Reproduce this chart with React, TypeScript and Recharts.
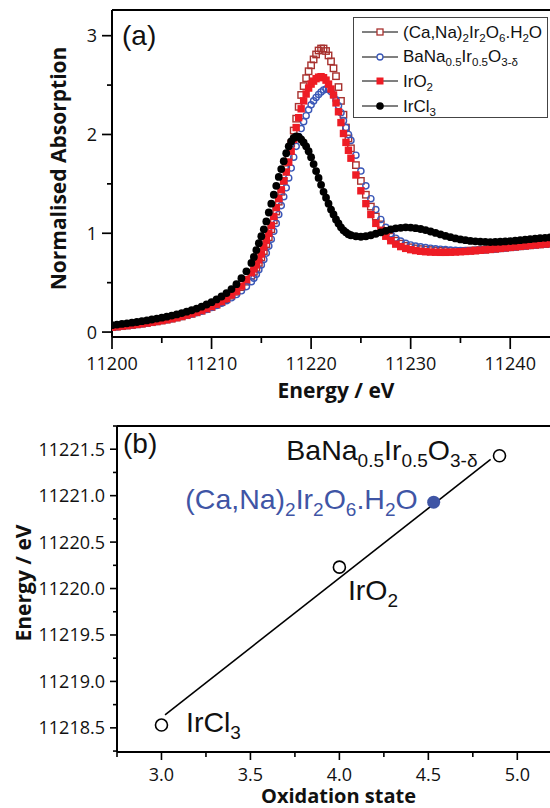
import React from 'react';
import { ScatterChart, Scatter, XAxis, YAxis, ReferenceLine, Legend, Customized, Label } from 'recharts';

// ---------------- data: panel (a) ----------------
const energies = [
  11200, 11200.5, 11201, 11201.5, 11202, 11202.5, 11203, 11203.5, 11204, 11204.5,
  11205, 11205.5, 11206, 11206.5, 11207, 11207.5, 11208, 11208.5, 11209, 11209.5,
  11210, 11210.5, 11211, 11211.5, 11212, 11212.5, 11213, 11213.5,
  11214, 11214.25, 11214.5, 11214.75, 11215, 11215.25, 11215.5, 11215.75, 11216, 11216.25,
  11216.5, 11216.75, 11217, 11217.25, 11217.5, 11217.75, 11218, 11218.25, 11218.5, 11218.75,
  11219, 11219.25, 11219.5, 11219.75, 11220, 11220.25, 11220.5, 11220.75, 11221, 11221.25,
  11221.5, 11221.75, 11222, 11222.25, 11222.5, 11222.75, 11223, 11223.25, 11223.5, 11223.75, 11224,
  11224.5, 11225, 11225.5, 11226, 11226.5, 11227, 11227.5, 11228, 11228.5, 11229,
  11229.5, 11230, 11230.5, 11231, 11231.5, 11232, 11232.5, 11233, 11233.5, 11234,
  11234.5, 11235, 11235.5, 11236, 11236.5, 11237, 11237.5, 11238, 11238.5, 11239,
  11239.5, 11240, 11240.5, 11241, 11241.5, 11242, 11242.5, 11243, 11243.5, 11244, 11244.5, 11245,
];

const caNaAbs = [
  0.05, 0.055, 0.06, 0.066, 0.072, 0.078, 0.085, 0.092, 0.1, 0.108,
  0.117, 0.126, 0.136, 0.147, 0.158, 0.171, 0.185, 0.2, 0.216, 0.234,
  0.254, 0.277, 0.303, 0.333, 0.368, 0.408, 0.455, 0.51,
  0.57, 0.61, 0.65, 0.70, 0.755, 0.82, 0.89, 0.96, 1.04, 1.13,
  1.22, 1.32, 1.42, 1.53, 1.65, 1.78, 1.91, 2.04, 2.16, 2.28,
  2.40, 2.49, 2.57, 2.64, 2.70, 2.76, 2.81, 2.85, 2.87, 2.87,
  2.845, 2.80, 2.74, 2.67, 2.59, 2.48, 2.34, 2.20, 2.07, 1.96, 1.86,
  1.69, 1.53, 1.39, 1.27, 1.17, 1.09, 1.02, 0.965, 0.925, 0.895,
  0.873, 0.858, 0.847, 0.84, 0.834, 0.83, 0.826, 0.823, 0.821, 0.82,
  0.82, 0.821, 0.822, 0.824, 0.827, 0.83, 0.834, 0.838, 0.843, 0.848,
  0.853, 0.858, 0.863, 0.868, 0.873, 0.878, 0.883, 0.887, 0.891, 0.895, 0.898, 0.9,
];

const baNaAbs = [
  0.05, 0.055, 0.06, 0.066, 0.072, 0.078, 0.085, 0.092, 0.1, 0.108,
  0.117, 0.126, 0.136, 0.147, 0.158, 0.17, 0.183, 0.197, 0.212, 0.229,
  0.248, 0.269, 0.292, 0.318, 0.347, 0.38, 0.418, 0.46,
  0.51, 0.545, 0.585, 0.63, 0.68, 0.735, 0.80, 0.87, 0.94, 1.02,
  1.10, 1.19, 1.28, 1.37, 1.46, 1.56, 1.66, 1.77, 1.88, 1.98,
  2.06, 2.13, 2.19, 2.25, 2.30, 2.34, 2.375, 2.405, 2.43, 2.45,
  2.46, 2.455, 2.435, 2.40, 2.35, 2.29, 2.22, 2.14, 2.07, 2.00, 1.94,
  1.79, 1.63, 1.48, 1.35, 1.24, 1.14, 1.06, 0.995, 0.95, 0.92,
  0.898, 0.882, 0.87, 0.862, 0.855, 0.849, 0.843, 0.838, 0.834, 0.83,
  0.827, 0.825, 0.825, 0.826, 0.828, 0.831, 0.834, 0.838, 0.842, 0.847,
  0.852, 0.857, 0.862, 0.867, 0.872, 0.877, 0.882, 0.886, 0.89, 0.894, 0.897, 0.9,
];

const irO2Abs = [
  0.05, 0.055, 0.06, 0.066, 0.072, 0.078, 0.085, 0.092, 0.1, 0.108,
  0.117, 0.126, 0.136, 0.147, 0.159, 0.172, 0.186, 0.201, 0.218, 0.237,
  0.258, 0.282, 0.309, 0.34, 0.376, 0.415, 0.465, 0.53,
  0.60, 0.64, 0.68, 0.73, 0.79, 0.86, 0.93, 1.00, 1.08, 1.17,
  1.26, 1.35, 1.44, 1.53, 1.62, 1.72, 1.83, 1.95, 2.07, 2.17,
  2.26, 2.34, 2.41, 2.47, 2.51, 2.54, 2.565, 2.58, 2.585, 2.575,
  2.55, 2.51, 2.46, 2.40, 2.32, 2.23, 2.12, 2.01, 1.92, 1.84, 1.76,
  1.59, 1.43, 1.30, 1.19, 1.10, 1.03, 0.97, 0.925, 0.89, 0.865,
  0.847, 0.834, 0.825, 0.818, 0.813, 0.81, 0.808, 0.807, 0.807, 0.808,
  0.81, 0.813, 0.816, 0.82, 0.824, 0.828, 0.833, 0.838, 0.843, 0.848,
  0.853, 0.858, 0.863, 0.868, 0.873, 0.878, 0.883, 0.887, 0.891, 0.895, 0.898, 0.901,
];

const irCl3Abs = [
  0.07, 0.076, 0.082, 0.088, 0.095, 0.102, 0.11, 0.118, 0.127, 0.136,
  0.146, 0.156, 0.167, 0.179, 0.192, 0.206, 0.221, 0.238, 0.257, 0.279,
  0.303, 0.33, 0.36, 0.395, 0.435, 0.485, 0.545, 0.615,
  0.70, 0.76, 0.83, 0.90, 0.97, 1.04, 1.12, 1.21, 1.30, 1.39,
  1.48, 1.57, 1.65, 1.73, 1.81, 1.88, 1.93, 1.965, 1.98, 1.975,
  1.95, 1.92, 1.88, 1.83, 1.77, 1.70, 1.63, 1.56, 1.49, 1.42,
  1.36, 1.30, 1.24, 1.19, 1.14, 1.10, 1.06, 1.03, 1.01, 0.99, 0.98,
  0.97, 0.965, 0.97, 0.98, 0.995, 1.01, 1.025, 1.04, 1.05, 1.055,
  1.06, 1.058, 1.052, 1.043, 1.032, 1.018, 1.003, 0.988, 0.973, 0.96,
  0.948, 0.938, 0.93, 0.923, 0.918, 0.914, 0.912, 0.911, 0.912, 0.914,
  0.917, 0.921, 0.925, 0.93, 0.935, 0.94, 0.945, 0.95, 0.954, 0.958, 0.961, 0.964,
];

const energyTicks = [11200, 11205, 11210, 11215, 11220, 11225, 11230, 11235, 11240, 11245];
const absTicks = [0, 0.5, 1, 1.5, 2, 2.5, 3];
const energyDomain = [11200, 11245];
const absDomain = [-0.05, 3.26];

// ---------------- data: panel (b) ----------------
const refNames = ['IrCl3', 'IrO2', 'BaNa'];
const refOx = [3.0, 4.0, 4.9];
const refEdge = [11218.53, 11220.23, 11221.43];
const sampleNames = ['CaNa'];
const sampleOx = [4.53];
const sampleEdge = [11220.93];
const fitOx = [3.02, 4.85];
const fitEdge = [11218.64, 11221.39];
const oxTicks = [2.75, 3, 3.25, 3.5, 3.75, 4, 4.25, 4.5, 4.75, 5];
const edgeTicks = [11218.25, 11218.5, 11218.75, 11219, 11219.25, 11219.5, 11219.75, 11220, 11220.25, 11220.5, 11220.75, 11221, 11221.25, 11221.5, 11221.75];
const oxDomain = [2.75, 5.24];
const edgeDomain = [11218.24, 11221.75];

type Part = [string, boolean];
const formulas: Record<string, Part[]> = {
  CaNa: [['(Ca,Na)', false], ['2', true], ['Ir', false], ['2', true], ['O', false], ['6', true], ['.H', false], ['2', true], ['O', false]],
  BaNa: [['BaNa', false], ['0.5', true], ['Ir', false], ['0.5', true], ['O', false], ['3-δ', true]],
  IrO2: [['IrO', false], ['2', true]],
  IrCl3: [['IrCl', false], ['3', true]],
};

// ---------------- styles ----------------
const C_CANA = '#a8322f';
const C_BANA = '#3a57b7';
const C_IRO2 = '#ee1c25';
const C_IRCL3 = '#000000';
const C_BLUE_TXT = '#3f55a5';
const TICK_FONT = '"Open Sans", sans-serif';
const TITLE_FONT = '"Open Sans", sans-serif';
const ANNOT_FONT = '"Liberation Sans", Arial, sans-serif';

const labelLayout: Record<string, { dx: number; dy: number; anchor: 'start' | 'end'; color: string }> = {
  IrCl3: { dx: 24.5, dy: 7, anchor: 'start', color: '#111' },
  IrO2: { dx: 8.5, dy: 33, anchor: 'start', color: '#111' },
  BaNa: { dx: -22, dy: 4, anchor: 'end', color: '#111' },
  CaNa: { dx: -16, dy: 7, anchor: 'end', color: C_BLUE_TXT },
};

const toPoints = (ys: number[]) => energies.map((x, i) => ({ x, y: ys[i] }));
const caNaPts = toPoints(caNaAbs);
const baNaPts = toPoints(baNaAbs);
const irO2Pts = toPoints(irO2Abs);
const irCl3Pts = toPoints(irCl3Abs);

const refPts = refOx.map((x, i) => ({ x, y: refEdge[i], name: refNames[i] }));
const samplePts = sampleOx.map((x, i) => ({ x, y: sampleEdge[i], name: sampleNames[i] }));
const fitPts = fitOx.map((x, i) => ({ x, y: fitEdge[i] }));

// ---------------- helpers ----------------
function SvgFormula({ x, y, parts, size, subSize, shift, anchor, fill }: any) {
  let shifted = false;
  const spans = parts.map(([t, s]: Part, i: number) => {
    let dy = 0;
    if (s && !shifted) dy = shift;
    if (!s && shifted) dy = -shift;
    shifted = s;
    return (
      <tspan key={i} dy={dy} fontSize={s ? subSize : size}>
        {t}
      </tspan>
    );
  });
  return (
    <text x={x} y={y} textAnchor={anchor} fill={fill} fontFamily={ANNOT_FONT} fontSize={size}>
      {spans}
    </text>
  );
}

function HtmlFormula({ parts }: { parts: Part[] }) {
  return (
    <span>
      {parts.map(([t, s], i) =>
        s ? (
          <span key={i} style={{ fontSize: '0.68em', verticalAlign: '-0.32em', lineHeight: 0 }}>
            {t}
          </span>
        ) : (
          <span key={i}>{t}</span>
        )
      )}
    </span>
  );
}

const openSquare = (p: any) => (
  <rect x={p.cx - 3.2} y={p.cy - 3.2} width={6.4} height={6.4} fill="none" stroke={C_CANA} strokeWidth={1.4} />
);
const openCircle = (p: any) => <circle cx={p.cx} cy={p.cy} r={3.1} fill="none" stroke={C_BANA} strokeWidth={1.4} />;
const filledSquare = (p: any) => <rect x={p.cx - 3.7} y={p.cy - 3.7} width={7.4} height={7.4} fill={C_IRO2} />;
const filledCircle = (p: any) => <circle cx={p.cx} cy={p.cy} r={3.9} fill={C_IRCL3} />;

// ---------------- ticks ----------------
const EnergyTick = (p: any) => {
  const v = p.payload.value;
  const major = v % 10 === 0;
  return (
    <g>
      <line x1={p.x} y1={p.y} x2={p.x} y2={p.y + (major ? 12 : 6)} stroke="#000" strokeWidth={1.7} />
      {major && (
        <text x={p.x} y={p.y + 33} textAnchor="middle" fontSize={18} fontFamily={TICK_FONT} fill="#111">
          {v}
        </text>
      )}
    </g>
  );
};

const AbsTick = (p: any) => {
  const v = p.payload.value;
  const major = Number.isInteger(v);
  return (
    <g>
      <line x1={p.x} y1={p.y} x2={p.x - (major ? 10 : 5)} y2={p.y} stroke="#000" strokeWidth={1.7} />
      {major && (
        <text x={p.x - 15} y={p.y + 6.5} textAnchor="end" fontSize={18} fontFamily={TICK_FONT} fill="#111">
          {v}
        </text>
      )}
    </g>
  );
};

const isHalf = (v: number) => Math.abs(v * 2 - Math.round(v * 2)) < 1e-6;

const OxTick = (p: any) => {
  const v = p.payload.value;
  const major = isHalf(v);
  return (
    <g>
      <line x1={p.x} y1={p.y} x2={p.x} y2={p.y + (major ? 8 : 5)} stroke="#000" strokeWidth={1.6} />
      {major && (
        <text x={p.x} y={p.y + 28.5} textAnchor="middle" fontSize={18} fontFamily={TICK_FONT} fill="#111">
          {v.toFixed(1)}
        </text>
      )}
    </g>
  );
};

const EdgeTick = (p: any) => {
  const v = p.payload.value;
  const major = isHalf(v);
  return (
    <g>
      <line x1={p.x} y1={p.y} x2={p.x - (major ? 7 : 4)} y2={p.y} stroke="#000" strokeWidth={1.6} />
      {major && (
        <text x={p.x - 12} y={p.y + 6.5} textAnchor="end" fontSize={18} fontFamily={TICK_FONT} fill="#111">
          {v.toFixed(1)}
        </text>
      )}
    </g>
  );
};

// ---------------- titles ----------------
const xTitle = (text: string, dy: number, size: number) => (props: any) => {
  const vb = props.viewBox || {};
  return (
    <text x={vb.x + vb.width / 2} y={vb.y + dy} textAnchor="middle" fontSize={size} fontWeight={700} fontFamily={TITLE_FONT} fill="#111">
      {text}
    </text>
  );
};

const yTitle = (text: string, baseX: number, dyc: number) => (props: any) => {
  const vb = props.viewBox || {};
  const x = vb.x + baseX;
  const y = vb.y + vb.height / 2 + dyc;
  return (
    <text x={x} y={y} transform={`rotate(-90, ${x}, ${y})`} textAnchor="middle" fontSize={21} fontWeight={700} fontFamily={TITLE_FONT} fill="#111">
      {text}
    </text>
  );
};

// ---------------- legend ----------------
const legendRows: { key: string; marker: string }[] = [
  { key: 'CaNa', marker: 'openSquare' },
  { key: 'BaNa', marker: 'openCircle' },
  { key: 'IrO2', marker: 'filledSquare' },
  { key: 'IrCl3', marker: 'filledCircle' },
];

function LegendMarker({ kind }: { kind: string }) {
  const c = { cx: 18, cy: 8 };
  return (
    <svg width={36} height={16} style={{ display: 'block', flex: 'none' }}>
      <line x1={0} y1={8} x2={36} y2={8} stroke="#000" strokeWidth={1} />
      {kind === 'openSquare' && <rect x={c.cx - 3} y={c.cy - 3} width={6} height={6} fill="#fff" stroke={C_CANA} strokeWidth={1.3} />}
      {kind === 'openCircle' && <circle cx={c.cx} cy={c.cy} r={3} fill="#fff" stroke={C_BANA} strokeWidth={1.3} />}
      {kind === 'filledSquare' && <rect x={c.cx - 3.5} y={c.cy - 3.5} width={7} height={7} fill={C_IRO2} />}
      {kind === 'filledCircle' && <circle cx={c.cx} cy={c.cy} r={3.8} fill={C_IRCL3} />}
    </svg>
  );
}

const LegendBox = () => (
  <div
    style={{
      width: 195,
      height: 101,
      boxSizing: 'border-box',
      border: '1px solid #444',
      background: '#fff',
      paddingTop: 2,
      fontFamily: ANNOT_FONT,
      fontSize: 17,
      color: '#111',
    }}
  >
    {legendRows.map((r) => (
      <div key={r.key} style={{ height: 24.6, display: 'flex', alignItems: 'center', paddingLeft: 8, whiteSpace: 'nowrap' }}>
        <LegendMarker kind={r.marker} />
        <span style={{ marginLeft: 5, lineHeight: '17px' }}>
          <HtmlFormula parts={formulas[r.key]} />
        </span>
      </div>
    ))}
  </div>
);

// ---------------- panel (b) shapes ----------------
const annotated = (filled: boolean) => (p: any) => {
  const name = p.payload?.name;
  const lay = labelLayout[name];
  return (
    <g>
      {filled ? (
        <circle cx={p.cx} cy={p.cy} r={6.5} fill={C_BLUE_TXT} />
      ) : (
        <circle cx={p.cx} cy={p.cy} r={6} fill="#fff" stroke="#000" strokeWidth={1.6} />
      )}
      {lay && (
        <SvgFormula
          x={p.cx + lay.dx}
          y={p.cy + lay.dy}
          parts={formulas[name]}
          size={28.5}
          subSize={19}
          shift={7}
          anchor={lay.anchor}
          fill={lay.color}
        />
      )}
    </g>
  );
};

const noMarker = () => <g />;

// ---------------- charts ----------------
function PanelA() {
  return (
    <ScatterChart width={560} height={410} margin={{ top: 10, right: 0, bottom: 33, left: 52 }}>
      <XAxis
        type="number"
        dataKey="x"
        domain={energyDomain}
        ticks={energyTicks}
        interval={0}
        allowDataOverflow
        height={40}
        tickSize={0}
        tickMargin={0}
        tickLine={false}
        axisLine={{ stroke: '#000', strokeWidth: 2 }}
        tick={(p: any) => <EnergyTick {...p} />}
      >
        <Label content={xTitle('Energy / eV', 61, 21)} />
      </XAxis>
      <YAxis
        type="number"
        dataKey="y"
        domain={absDomain}
        ticks={absTicks}
        interval={0}
        allowDataOverflow
        width={60}
        tickSize={0}
        tickMargin={0}
        tickLine={false}
        axisLine={{ stroke: '#000', strokeWidth: 2 }}
        tick={(p: any) => <AbsTick {...p} />}
      >
        <Label content={yTitle('Normalised Absorption', 14, -5)} />
      </YAxis>
      <ReferenceLine y={absDomain[1]} stroke="#000" strokeWidth={2} />
      <Scatter name="CaNa" data={caNaPts} shape={openSquare} isAnimationActive={false} />
      <Scatter name="BaNa" data={baNaPts} shape={openCircle} isAnimationActive={false} />
      <Scatter name="IrO2" data={irO2Pts} shape={filledSquare} isAnimationActive={false} />
      <Scatter name="IrCl3" data={irCl3Pts} shape={filledCircle} isAnimationActive={false} />
      <Customized
        component={() => (
          <text x={122} y={45} fontSize={28} fontFamily={ANNOT_FONT} fill="#111">
            (a)
          </text>
        )}
      />
      <Legend
        layout="horizontal"
        verticalAlign="middle"
        align="center"
        content={() => <LegendBox />}
        wrapperStyle={{ left: 353, top: 17, width: 195, height: 101 }}
      />
    </ScatterChart>
  );
}

function PanelB() {
  return (
    <ScatterChart width={560} height={398} margin={{ top: 16, right: 0, bottom: 16, left: 57 }}>
      <XAxis
        type="number"
        dataKey="x"
        domain={oxDomain}
        ticks={oxTicks}
        interval={0}
        allowDataOverflow
        height={40}
        tickSize={0}
        tickMargin={0}
        tickLine={false}
        axisLine={{ stroke: '#000', strokeWidth: 2 }}
        tick={(p: any) => <OxTick {...p} />}
      >
        <Label content={xTitle('Oxidation state', 51, 20)} />
      </XAxis>
      <YAxis
        type="number"
        dataKey="y"
        domain={edgeDomain}
        ticks={edgeTicks}
        interval={0}
        allowDataOverflow
        width={60}
        tickSize={0}
        tickMargin={0}
        tickLine={false}
        axisLine={{ stroke: '#000', strokeWidth: 2 }}
        tick={(p: any) => <EdgeTick {...p} />}
      >
        <Label content={yTitle('Energy / eV', -26, -6)} />
      </YAxis>
      <ReferenceLine y={edgeDomain[1]} stroke="#000" strokeWidth={2} />
      <Scatter name="fit" data={fitPts} line={{ stroke: '#000', strokeWidth: 1.6 }} shape={noMarker} isAnimationActive={false} />
      <Scatter name="refs" data={refPts} shape={annotated(false)} isAnimationActive={false} />
      <Scatter name="sample" data={samplePts} shape={annotated(true)} isAnimationActive={false} />
      <Customized
        component={() => (
          <text x={123} y={43} fontSize={28} fontFamily={ANNOT_FONT} fill="#111">
            (b)
          </text>
        )}
      />
    </ScatterChart>
  );
}

export default function App() {
  return (
    <div
      style={{
        position: 'absolute',
        left: 0,
        top: 0,
        width: 550,
        height: 808,
        overflow: 'hidden',
        background: '#fff',
        fontFamily: TICK_FONT,
      }}
    >
      <div style={{ position: 'absolute', left: 0, top: 0 }}>
        <PanelA />
      </div>
      <div style={{ position: 'absolute', left: 0, top: 410 }}>
        <PanelB />
      </div>
    </div>
  );
}
